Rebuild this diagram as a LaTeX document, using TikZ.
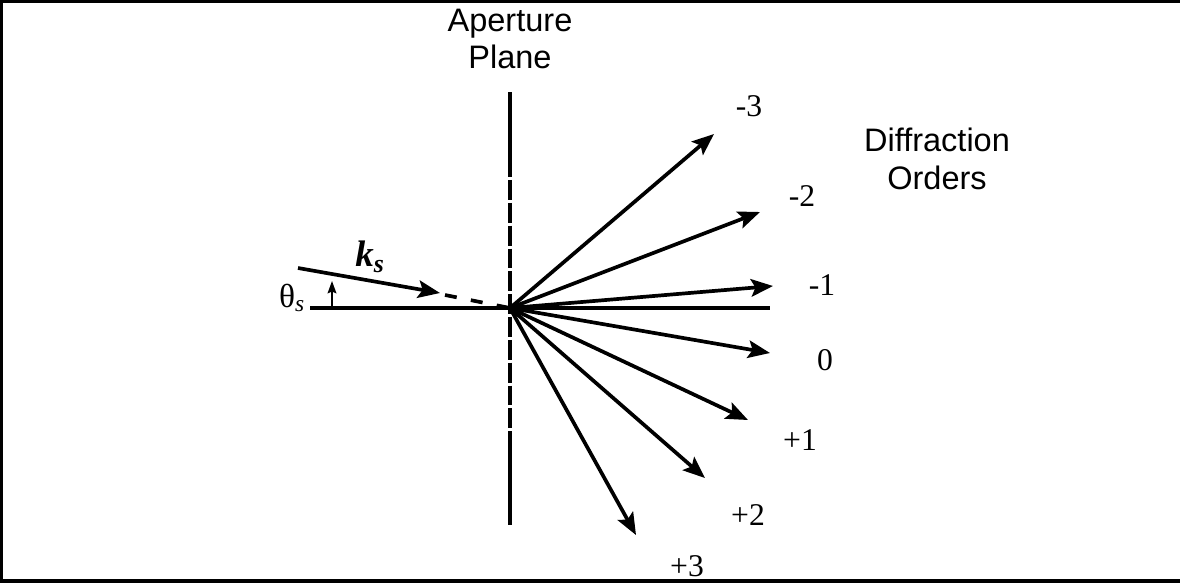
\documentclass[tikz,border=0pt]{standalone}
\usepackage{fontspec}
\setmainfont{Liberation Serif}
\newfontfamily\labelsans{Liberation Sans}
\usetikzlibrary{arrows.meta}
\begin{document}
\begin{tikzpicture}[x=0.02cm,y=-0.02cm,
  ray/.style={line width=2.1pt,-{Stealth[length=12.5pt,width=10pt,inset=2.5pt]}},
  thick line/.style={line width=2.4pt},
  order/.style={font=\fontsize{18}{20}\selectfont},
  sanslabel/.style={font=\labelsans\fontsize{18.5}{21.5}\selectfont,align=center},
  frameline/.style={line width=1.8pt}]
\useasboundingbox (0,0) rectangle (1180,586);
% frame
\draw[frameline] (0,1) -- (1180,1);
\draw[frameline] (1,0) -- (1,581);
\draw[frameline] (0,581) -- (1180,581);
% nodes / coordinates
\coordinate (O) at (510,308);
\coordinate (vtop) at (510,92);
\coordinate (vd1) at (510,177);
\coordinate (vd2) at (510,438);
\coordinate (vbot) at (510,525);
\coordinate (hl) at (310,308);
\coordinate (hr) at (770,308);
\coordinate (kstart) at (298,268);
\coordinate (ktip) at (440,293);
\coordinate (kdash) at (445,295);
\coordinate (th0) at (332,308);
\coordinate (th1) at (332,281);
% aperture plane
\draw[thick line] (vtop) -- (vd1);
\draw[thick line,dash pattern=on 11.3pt off 1.7pt,dash phase=11.3pt] (vd1) -- (vd2);
\draw[thick line] (vd2) -- (vbot);
% horizontal axis
\draw[thick line] (hl) -- (hr);
% incident wave
\draw[ray] (kstart) -- (ktip);
\draw[line width=2.1pt,dash pattern=on 6.8pt off 8.2pt] (kdash) -- (O);
\draw[line width=1pt,-{Stealth[length=7pt,width=5pt,inset=1pt]}] (th0) -- (th1);
% diffraction orders
\coordinate (m3) at (714,134);
\coordinate (m2) at (760,212);
\coordinate (m1) at (773,286);
\coordinate (z0) at (770,353);
\coordinate (p1) at (748,420);
\coordinate (p2) at (705,478);
\coordinate (p3) at (636,535);
\foreach \t in {m3,m2,m1,z0,p1,p2,p3} \draw[ray] (O) -- (\t);
% labels
\node[order] (lm3) at (749,106) {-3};
\node[order] (lm2) at (802,196) {-2};
\node[order] (lm1) at (822,285) {-1};
\node[order] (lz0) at (825,360) {0};
\node[order] (lp1) at (800,440) {+1};
\node[order] (lp2) at (748,515) {+2};
\node[order] (lp3) at (687,566) {+3};
\node[font=\fontsize{19}{21}\selectfont] (theta) at (292,298) {θ\textsubscript{\itshape s}};
\node[font=\fontsize{21}{23}\selectfont] (ks) at (370,257) {\textbf{\itshape k\textsubscript{s}}};
\node[sanslabel] (ap) at (510,39) {Aperture\\Plane};
\node[sanslabel] (do) at (937,159) {Diffraction\\Orders};
\end{tikzpicture}
\end{document}
